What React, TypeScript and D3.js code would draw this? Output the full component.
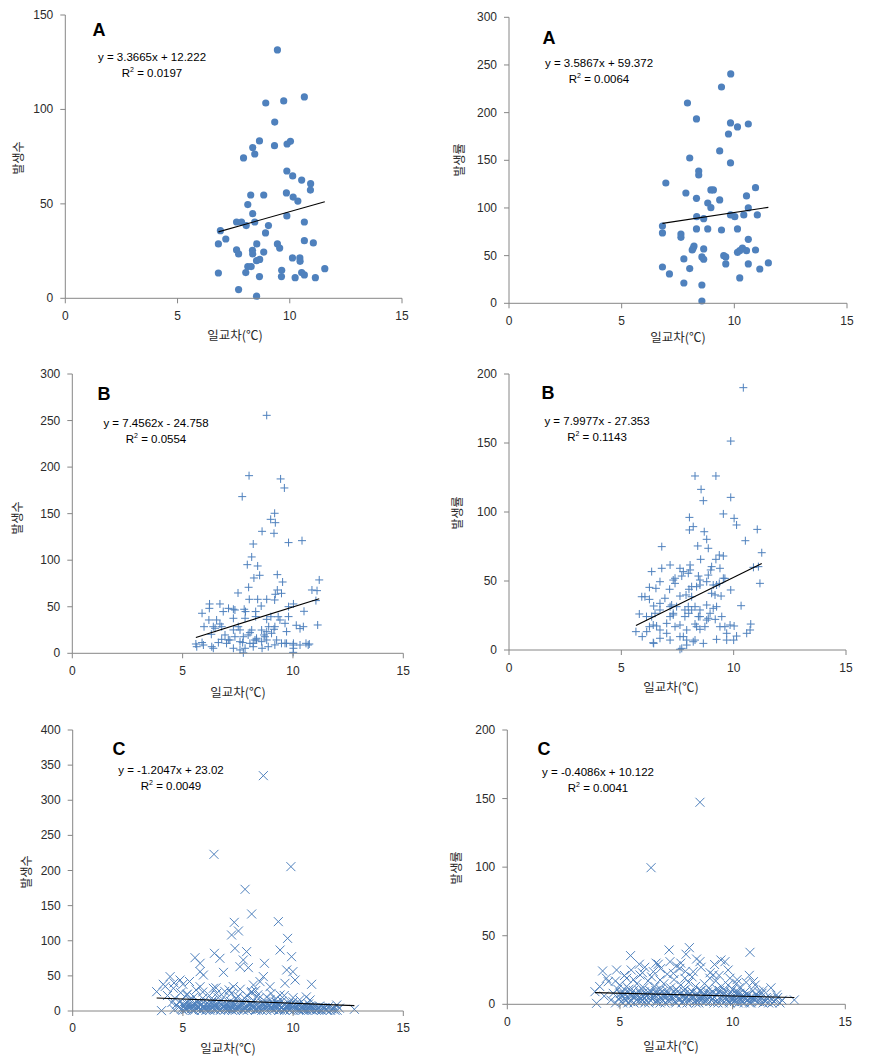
import React from "react";
import * as d3 from "d3";

type Pt = [number, number];

const xTicks = [0, 5, 10, 15];
const xTitle = "일교차(℃)";
const yTitleCount = "발생수";
const yTitleRate = "발생률";

const aCountPoints: Pt[] = [[9.45,131.5],[8.93,103.4],[9.73,104.5],[10.65,106.6],[9.33,93.3],[8.65,83.3],[8.35,79.8],[8.44,76.4],[7.94,74.3],[9.32,80.8],[9.88,81.7],[10.03,83.1],[9.87,67.4],[10.13,64.8],[10.53,62.6],[10.93,60.7],[10.92,57.3],[9.85,55.8],[10.15,53.6],[10.36,51.5],[8.26,54.7],[8.84,54.7],[8.13,49.6],[8.35,44.8],[9.87,43.6],[10.65,40.4],[7.63,40.4],[7.85,40.4],[8.06,38.5],[8.44,40.4],[9.05,38.5],[8.92,34.6],[6.91,35.8],[7.15,31.4],[6.82,28.8],[8.53,28.8],[9.45,28.8],[9.55,26.6],[10.65,30.5],[11.05,29.3],[7.63,25.6],[7.72,23.5],[8.34,25.4],[8.35,23.5],[8.84,24.5],[10.12,21.4],[10.45,21.4],[10.46,19.6],[8.52,19.9],[8.66,20.6],[8.13,16.8],[8.28,16.8],[11.56,15.7],[6.82,13.4],[8.04,13.6],[9.64,14.8],[9.63,11.5],[8.65,11.5],[10.24,10.9],[10.53,13.6],[10.65,12.4],[11.14,10.9],[7.72,4.6],[8.52,1.1]];

const aRatePoints: Pt[] = [[9.84,240.6],[9.43,226.9],[7.92,210.1],[8.32,193.4],[9.83,189.2],[10.62,188.1],[10.14,185.0],[9.74,177.6],[9.35,159.8],[8.02,152.4],[9.83,147.2],[8.42,138.8],[8.42,134.6],[6.96,126.2],[10.94,121.3],[8.96,118.9],[9.07,118.9],[7.85,115.7],[10.54,112.6],[8.32,110.1],[9.35,108.4],[8.82,105.2],[8.96,100.3],[10.62,100.0],[9.83,92.7],[10.02,90.9],[10.42,92.7],[11.02,92.7],[8.33,90.9],[8.64,88.8],[6.81,81.1],[6.81,73.8],[7.63,72.7],[7.63,69.2],[8.32,78.0],[8.82,78.0],[9.43,76.9],[10.14,78.0],[10.62,67.1],[8.21,60.1],[8.13,55.9],[8.17,57.7],[8.64,57.0],[10.36,58.0],[10.24,55.2],[10.14,53.5],[10.54,55.2],[10.94,55.9],[9.53,50.0],[9.62,48.6],[8.56,48.6],[8.64,46.2],[7.76,46.5],[9.62,41.3],[10.62,41.3],[11.51,42.3],[6.81,38.1],[8.02,36.4],[11.13,36.0],[7.12,30.8],[10.24,26.6],[7.76,21.3],[8.56,19.2],[8.56,2.4]];

const bCountPoints: Pt[] = [[8.81,255.6],[8.01,190.8],[9.44,187.3],[9.61,177.6],[7.70,168.3],[9.17,150.4],[8.99,143.9],[9.20,140.3],[8.60,131.0],[9.14,128.9],[10.41,121.0],[9.80,118.9],[8.20,117.4],[8.13,103.5],[7.93,95.2],[8.40,93.8],[8.23,80.9],[8.49,83.8],[9.29,84.5],[9.53,76.6],[11.19,78.8],[7.51,64.8],[7.99,70.9],[9.29,68.0],[10.86,68.0],[11.09,67.3],[9.20,63.4],[9.48,64.4],[8.02,58.0],[8.40,58.0],[8.81,58.0],[9.17,57.3],[11.04,56.6],[6.22,53.0],[6.69,53.0],[10.02,53.0],[9.80,50.1],[6.21,48.3],[7.08,48.3],[7.30,47.3],[7.79,47.3],[7.85,44.8],[6.84,44.8],[10.50,45.1],[5.88,43.0],[8.31,44.8],[8.56,50.8],[6.19,35.8],[7.30,37.6],[8.31,39.4],[9.80,39.4],[9.41,35.8],[5.97,28.6],[6.39,28.6],[6.69,31.5],[10.15,30.1],[10.47,28.6],[11.12,30.4],[10.32,26.5],[8.90,28.6],[9.14,25.8],[9.71,23.3],[6.30,20.4],[7.30,25.1],[7.60,25.1],[8.05,22.2],[8.69,19.7],[5.60,10.0],[5.88,11.5],[6.39,5.4],[6.62,11.5],[6.99,10.7],[7.14,14.3],[7.60,3.6],[7.72,11.5],[8.20,10.7],[8.35,14.3],[8.60,5.4],[8.81,14.3],[9.18,9.0],[9.48,10.7],[9.71,10.7],[10.02,10.7],[10.59,10.7],[10.74,10.0],[10.02,5.4],[9.33,39.3],[9.00,39.3],[6.54,35.8],[7.83,37.6],[8.81,36.5],[9.64,32.2],[9.18,28.6],[6.47,26.9],[6.77,28.6],[7.52,28.6],[8.13,25.0],[8.58,25.0],[9.03,21.5],[6.92,19.7],[7.37,17.8],[7.75,17.8],[8.35,16.1],[8.73,17.8],[9.26,14.3],[7.60,12.5],[8.05,10.7],[8.58,12.5],[9.64,10.7],[10.01,8.9],[10.32,8.9],[10.69,8.9],[5.64,7.1],[5.94,8.9],[6.32,7.1],[7.30,5.4],[7.83,5.4],[8.20,7.1],[8.88,7.1],[10.01,1.0],[7.75,0.5],[7.07,14.3],[6.77,15.0],[7.97,19.7],[8.28,14.3],[8.81,23.2],[7.37,46.5]];

const bRatePoints: Pt[] = [[10.43,190.1],[9.87,151.4],[8.28,126.1],[9.21,126.1],[8.55,116.4],[8.65,108.2],[9.87,110.6],[9.54,98.6],[8.03,96.1],[10.02,95.4],[10.13,90.6],[8.20,89.4],[8.03,87.0],[11.05,87.4],[8.69,85.7],[6.80,74.9],[10.52,79.2],[8.80,80.2],[8.40,75.4],[8.87,73.7],[11.25,70.5],[9.36,68.8],[9.54,68.1],[9.21,65.7],[8.53,65.7],[7.17,61.6],[6.80,59.2],[6.35,56.8],[7.61,59.2],[8.06,61.6],[7.76,56.8],[7.98,55.6],[8.98,58.0],[11.10,60.4],[10.88,59.9],[7.31,50.7],[6.72,49.5],[7.39,48.3],[8.50,50.7],[8.80,49.5],[9.36,48.3],[9.61,51.9],[11.17,48.3],[6.25,45.4],[6.54,44.7],[7.15,44.0],[8.01,44.0],[8.35,45.9],[9.87,43.5],[9.09,47.1],[5.91,38.6],[6.25,36.7],[7.61,39.1],[7.88,39.9],[9.02,41.1],[9.44,39.1],[6.44,31.9],[6.72,33.8],[7.17,31.4],[7.46,31.4],[7.83,29.0],[8.28,31.4],[8.80,32.6],[9.24,31.4],[10.33,32.1],[5.80,26.1],[6.12,24.2],[6.50,26.6],[7.31,25.4],[8.00,26.6],[8.50,24.2],[8.95,26.6],[9.18,22.2],[9.47,24.2],[6.25,16.9],[6.57,17.4],[7.02,19.3],[7.39,16.9],[7.91,14.5],[8.35,16.9],[8.80,21.7],[9.61,16.9],[9.84,18.1],[10.02,17.4],[10.76,18.8],[5.65,13.3],[6.44,4.8],[6.72,8.5],[7.17,7.2],[7.61,9.7],[7.91,7.2],[8.28,7.2],[8.65,4.8],[9.24,7.7],[9.69,7.2],[10.00,7.2],[10.13,10.1],[10.58,12.1],[10.73,14.5],[5.93,9.7],[7.61,0.5],[7.91,3.6],[7.39,52.0],[7.69,53.6],[8.06,58.0],[8.43,53.6],[8.87,54.3],[9.02,60.4],[9.39,59.2],[9.54,52.0],[8.13,45.9],[8.50,47.1],[9.24,47.1],[6.05,38.6],[6.94,37.5],[8.13,38.6],[9.17,39.9],[7.24,32.6],[7.98,31.4],[6.72,29.0],[7.31,26.6],[8.13,29.0],[8.50,29.0],[9.09,30.2],[6.35,24.2],[7.17,24.2],[7.83,24.2],[8.43,24.2],[8.87,23.0],[6.42,18.1],[7.61,18.1],[8.28,18.8],[8.72,16.9],[9.39,16.9],[6.13,13.3],[6.72,14.5],[7.02,12.1],[8.50,15.0],[9.69,12.1],[6.42,5.3],[7.76,9.7],[8.20,6.0],[7.69,1.2]];

const cCountPoints: Pt[] = [[8.65,335.0],[6.41,223.0],[9.90,205.5],[7.82,173.2],[8.12,138.1],[9.33,127.2],[7.33,126.2],[7.52,113.9],[7.21,108.2],[9.75,103.4],[7.36,89.2],[9.41,86.8],[7.89,84.5],[6.43,82.1],[9.93,77.3],[5.55,75.9],[6.68,75.0],[7.74,72.6],[5.78,67.9],[8.70,67.9],[7.59,63.1],[7.97,61.7],[9.71,58.4],[5.78,56.0],[6.84,55.0],[9.99,56.0],[5.93,51.2],[4.42,48.9],[8.65,48.9],[4.87,44.1],[10.09,44.1],[10.84,38.0],[4.11,38.0],[8.20,37.0],[8.50,41.8],[9.63,39.4],[3.81,27.5],[4.57,32.3],[5.78,34.6],[6.38,32.3],[7.29,34.6],[8.95,34.6],[8.12,27.5],[9.41,22.8],[4.03,0.5],[12.78,2.4],[4.64,18.0],[5.17,22.8],[6.53,25.1],[10.77,15.7],[11.98,8.5],[11.83,3.8],
[4.6,2],[4.7,9],[4.8,5],[4.9,14],[5.0,1],[5.05,7],[5.15,11],[5.2,3],[5.3,16],[5.35,6],[5.45,1],[5.5,10],[5.6,4],[5.65,13],[5.75,2],[5.8,8],[5.9,18],[5.95,5],[6.05,1],[6.1,11],[6.2,3],[6.25,7],[6.35,15],[6.4,2],[6.5,9],[6.55,5],[6.65,12],[6.7,1],[6.8,6],[6.85,20],[6.95,3],[7.0,10],[7.1,4],[7.15,14],[7.25,1],[7.3,7],[7.4,17],[7.45,3],[7.55,9],[7.6,5],[7.7,12],[7.75,1],[7.85,7],[7.9,22],[8.0,3],[8.05,10],[8.15,5],[8.2,15],[8.3,1],[8.35,8],[8.45,18],[8.5,3],[8.6,11],[8.65,5],[8.75,13],[8.8,1],[8.9,7],[8.95,16],[9.05,3],[9.1,9],[9.2,4],[9.25,12],[9.35,1],[9.4,7],[9.5,14],[9.55,3],[9.65,9],[9.7,5],[9.8,11],[9.85,1],[9.95,6],[10.0,13],[10.1,3],[10.15,8],[10.25,2],[10.3,11],[10.4,5],[10.45,1],[10.55,8],[10.6,3],[10.7,10],[10.75,2],[10.85,6],[10.9,1],[11.0,5],[11.1,2],[11.2,7],[11.3,1],[11.4,4],[11.5,2],[11.6,6],[11.7,1],[11.85,3],[12.0,1],[12.1,4],
[5.1,4],[5.4,8],[5.7,6],[6.0,4],[6.3,10],[6.6,3],[6.9,8],[7.2,2],[7.5,6],[7.8,4],[8.1,7],[8.4,2],[8.7,6],[9.0,4],[9.3,9],[9.6,2],[9.9,4],[10.2,6],[10.5,3],[10.8,4],[11.15,3],[11.45,5],
[4.95,3],[5.02,9],[5.12,2],[5.22,6],[5.28,10],[5.38,3],[5.48,7],[5.52,1],[5.62,9],[5.72,5],[5.78,12],[5.85,1],[5.92,6],[6.02,9],[6.08,3],[6.15,7],[6.22,1],[6.28,12],[6.32,5],[6.42,8],[6.48,2],[6.58,10],[6.62,6],[6.72,3],[6.78,9],[6.88,1],[6.92,5],[7.02,7],[7.08,2],[7.18,9],[7.22,5],[7.32,11],[7.38,1],[7.48,6],[7.52,3],[7.62,8],[7.68,2],[7.78,10],[7.82,5],[7.92,1],[7.98,7],[8.08,3],[8.12,11],[8.22,6],[8.28,2],[8.38,9],[8.42,5],[8.52,7],[8.58,1],[8.68,9],[8.72,3],[8.82,6],[8.88,10],[8.98,1],[9.02,6],[9.12,2],[9.18,8],[9.28,5],[9.32,11],[9.42,2],[9.48,6],[9.58,9],[9.62,1],[9.72,7],[9.78,3],[9.88,8],[9.92,4],[10.02,1],[10.08,6],[10.18,3],[10.22,9],[10.32,1],[10.38,6],[10.48,3],[10.52,8],[10.62,1],[10.68,5],[10.78,7],[10.82,2],[10.92,5],[11.05,1],[11.12,4],[11.25,2],[11.35,5],[11.55,1],[11.75,3],[11.9,1],
[5.2,24],[5.5,20],[5.9,27],[6.2,22],[6.6,19],[6.9,28],[7.2,25],[7.5,21],[7.8,18],[8.1,26],[8.4,23],[8.8,20],[9.2,17],[9.6,22],[10.0,19],[10.3,16],[10.6,20],[4.9,26],[4.3,22],[4.5,12],[7.1,30],[7.6,31],[8.3,29],[9.0,25],[5.6,30],[6.5,33],[4.2,35],[4.6,40],[5.0,38],[5.3,42]];

const cRatePoints: Pt[] = [[8.55,147.3],[6.38,99.6],[8.08,41.3],[7.93,36.5],[7.18,39.6],[10.77,37.9],[5.47,35.5],[9.48,32.3],[9.66,31.1],[5.86,29.2],[6.70,29.2],[4.23,24.3],[4.85,25.0],[10.74,21.1],[7.22,31.1],[7.66,26.2],[8.55,31.1],[9.14,21.4],[3.89,9.2],[3.96,0.7],[12.74,3.2],[11.95,6.8],[11.36,10.4],[5.30,19.0],[5.89,21.4],[6.48,23.8],[7.37,22.6],[8.25,23.8],[8.99,19.0],[9.88,19.0],[10.18,15.3],[4.48,16.5],[4.99,14.1],[10.92,16.5],[6.78,17.7],[7.88,19.0],
[4.6,3],[4.7,8],[4.8,1],[4.9,11],[5.0,5],[5.05,2],[5.15,9],[5.2,4],[5.3,13],[5.35,1],[5.45,7],[5.5,3],[5.6,10],[5.65,5],[5.75,15],[5.8,2],[5.9,8],[5.95,4],[6.05,12],[6.1,1],[6.2,6],[6.25,17],[6.35,3],[6.4,9],[6.5,5],[6.55,13],[6.65,2],[6.7,7],[6.8,11],[6.85,4],[6.95,15],[7.0,1],[7.1,8],[7.15,3],[7.25,12],[7.3,6],[7.4,18],[7.45,2],[7.55,9],[7.6,4],[7.7,14],[7.75,1],[7.85,7],[7.9,11],[8.0,3],[8.05,16],[8.15,5],[8.2,9],[8.3,2],[8.35,13],[8.45,6],[8.5,1],[8.6,10],[8.65,4],[8.75,15],[8.8,2],[8.9,7],[8.95,12],[9.05,3],[9.1,9],[9.2,5],[9.25,17],[9.35,1],[9.4,8],[9.5,13],[9.55,3],[9.65,10],[9.7,5],[9.8,14],[9.85,2],[9.95,7],[10.0,11],[10.1,3],[10.15,8],[10.25,1],[10.3,12],[10.4,5],[10.45,2],[10.55,9],[10.6,4],[10.7,7],[10.75,1],[10.85,5],[10.9,10],[11.0,3],[11.1,6],[11.2,2],[11.3,8],[11.4,3],[11.5,5],[11.6,1],[11.7,4],[11.85,2],[12.0,5],[12.1,1],
[5.1,6],[5.4,11],[5.7,7],[6.0,3],[6.3,8],[6.6,10],[6.9,6],[7.2,4],[7.5,11],[7.8,5],[8.1,8],[8.4,3],[8.7,7],[9.0,5],[9.3,11],[9.6,7],[9.9,4],[10.2,9],[10.5,6],[10.8,3],[11.15,9],[11.45,2],
[4.95,4],[5.02,8],[5.12,1],[5.22,7],[5.28,3],[5.38,9],[5.48,2],[5.52,6],[5.62,1],[5.72,8],[5.78,4],[5.85,10],[5.92,2],[6.02,6],[6.08,9],[6.15,3],[6.22,7],[6.28,1],[6.32,10],[6.42,4],[6.48,7],[6.58,2],[6.62,8],[6.72,4],[6.78,1],[6.88,9],[6.92,3],[7.02,6],[7.08,10],[7.18,2],[7.22,7],[7.32,4],[7.38,9],[7.48,1],[7.52,6],[7.62,3],[7.68,8],[7.78,2],[7.82,10],[7.92,5],[7.98,1],[8.08,7],[8.12,3],[8.22,9],[8.28,5],[8.38,1],[8.42,8],[8.52,4],[8.58,10],[8.68,2],[8.72,6],[8.82,3],[8.88,9],[8.98,2],[9.02,8],[9.12,4],[9.18,1],[9.28,7],[9.32,3],[9.42,10],[9.48,4],[9.58,1],[9.62,8],[9.72,3],[9.78,6],[9.88,1],[9.92,9],[10.02,4],[10.08,2],[10.18,7],[10.22,3],[10.32,8],[10.38,2],[10.48,5],[10.52,1],[10.62,7],[10.68,3],[10.78,5],[10.82,1],[10.92,4],[11.05,7],[11.12,2],[11.25,5],[11.35,1],[11.55,4],[11.75,1],[11.9,3],
[4.4,19],[4.8,17],[5.2,21],[5.6,18],[6.0,23],[6.4,20],[6.8,26],[7.1,22],[7.5,28],[7.9,24],[8.2,20],[8.6,27],[9.0,23],[9.4,21],[9.8,25],[10.2,18],[10.6,16],[11.0,14],[6.1,27],[6.6,30],[7.7,30],[8.4,33],[9.2,29],[4.1,13],[4.3,6],[5.5,25],[11.7,12],[12.2,3]];

const panelLabels = ["A", "A", "B", "B", "C", "C"];
const slopes = [3.3665, 3.5867, 7.4562, 7.9977, -1.2047, -0.4086];
const intercepts = [12.222, 59.372, -24.758, -27.353, 23.02, 10.122];
const eqTexts = ["y = 3.3665x + 12.222", "y = 3.5867x + 59.372", "y = 7.4562x - 24.758", "y = 7.9977x - 27.353", "y = -1.2047x + 23.02", "y = -0.4086x + 10.122"];
const r2Texts = ["0.0197", "0.0064", "0.0554", "0.1143", "0.0049", "0.0041"];
const yMaxes = [150, 300, 300, 200, 400, 200];
const yTitles = [yTitleCount, yTitleRate, yTitleCount, yTitleRate, yTitleCount, yTitleRate];
const pointSets = [aCountPoints, aRatePoints, bCountPoints, bRatePoints, cCountPoints, cRatePoints];
const markerTypes = ["circle", "circle", "plus", "plus", "cross", "cross"];

// layout (pixel geometry only)
const layouts = [
  { l: 65.3, r: 402, t: 15, b: 298.3, lab: [99, 29], eq: [152, 57], xl: 320, xt: [235, 340], yt: [19, 158] },
  { l: 509, r: 847, t: 17.3, b: 303.3, lab: [549, 37], eq: [599, 63], xl: 325, xt: [678, 342], yt: [460, 160] },
  { l: 72.3, r: 403.3, t: 374, b: 653.3, lab: [104, 393], eq: [156, 423], xl: 675, xt: [238, 697], yt: [18, 518] },
  { l: 509, r: 846, t: 374, b: 650, lab: [548, 392], eq: [597, 421], xl: 672, xt: [671, 692], yt: [458, 513] },
  { l: 72.7, r: 403.3, t: 730, b: 1011, lab: [119, 748], eq: [171, 770], xl: 1032, xt: [228, 1053], yt: [27, 872] },
  { l: 507.3, r: 845.3, t: 730, b: 1004.3, lab: [544, 748], eq: [598, 772], xl: 1026, xt: [671, 1051], yt: [457, 868] },
];

const AXIS = "#868686";
const MARK = "#4F81BD";
const TXT = "#2b2b2b";
const LATIN = "'Liberation Sans', Arial, sans-serif";
const KR = "'Noto Sans CJK KR', sans-serif";

function Panel({ i }: { i: number }) {
  const L = layouts[i];
  const x = d3.scaleLinear().domain([0, 15]).range([L.l, L.r]);
  const y = d3.scaleLinear().domain([0, yMaxes[i]]).range([L.b, L.t]);
  const yTicks = d3.range(0, yMaxes[i] + 1, 50);
  const pts = pointSets[i];
  const [xmin, xmax] = d3.extent(pts, (d) => d[0]) as [number, number];
  const line = d3.line<number>().x((v) => x(v)).y((v) => y(slopes[i] * v + intercepts[i]));
  const mt = markerTypes[i];

  return (
    <g>
      <g>
        {pts.map((d, k) => {
          const cx = x(d[0]);
          const cy = y(d[1]);
          if (mt === "circle") return <circle key={k} cx={cx} cy={cy} r={3.6} fill={MARK} />;
          if (mt === "plus")
            return (
              <path key={k} d={`M${cx - 4},${cy}H${cx + 4}M${cx},${cy - 4}V${cy + 4}`} stroke={MARK} strokeWidth={1} fill="none" />
            );
          return (
            <path key={k} d={`M${cx - 4.5},${cy - 4.5}L${cx + 4.5},${cy + 4.5}M${cx - 4.5},${cy + 4.5}L${cx + 4.5},${cy - 4.5}`} stroke={MARK} strokeWidth={1} fill="none" />
          );
        })}
      </g>
      <path d={line([xmin, xmax]) || ""} stroke="#000" strokeWidth={1.1} fill="none" />
      <line x1={L.l} x2={L.l} y1={L.t} y2={L.b} stroke={AXIS} />
      <line x1={L.l} x2={L.r} y1={L.b} y2={L.b} stroke={AXIS} />
      {yTicks.map((t) => (
        <g key={"y" + t}>
          <line x1={L.l - 5} x2={L.l} y1={y(t)} y2={y(t)} stroke={AXIS} />
          <text x={L.l - 12} y={y(t) + 4} textAnchor="end" fontSize={12} fill={TXT} fontFamily={LATIN}>
            {t}
          </text>
        </g>
      ))}
      {xTicks.map((t) => (
        <g key={"x" + t}>
          <line x1={x(t)} x2={x(t)} y1={L.b} y2={L.b + 5} stroke={AXIS} />
          <text x={x(t)} y={L.xl} textAnchor="middle" fontSize={12} fill={TXT} fontFamily={LATIN}>
            {t}
          </text>
        </g>
      ))}
      <text x={L.xt[0]} y={L.xt[1]} textAnchor="middle" fontSize={12.5} fill={TXT} fontFamily={KR}>
        {xTitle}
      </text>
      <text transform={`translate(${L.yt[0] + 4},${L.yt[1]}) rotate(-90)`} textAnchor="middle" fontSize={12} fill={TXT} fontFamily={KR}>
        {yTitles[i]}
      </text>
      <text x={L.lab[0]} y={L.lab[1] + 6.5} textAnchor="middle" fontSize={18} fontWeight="bold" fill="#000" fontFamily={LATIN}>
        {panelLabels[i]}
      </text>
      <text x={L.eq[0]} y={L.eq[1] + 4} textAnchor="middle" fontSize={11.5} fill="#000" fontFamily={LATIN}>
        {eqTexts[i]}
      </text>
      <text x={L.eq[0]} y={L.eq[1] + 20} textAnchor="middle" fontSize={11.5} fill="#000" fontFamily={LATIN}>
        R<tspan fontSize={7} dy={-5}>2</tspan>
        <tspan dy={5}>{" = " + r2Texts[i]}</tspan>
      </text>
    </g>
  );
}

export default function App() {
  return (
    <svg width={879} height={1062} style={{ position: "absolute", left: 0, top: 0, background: "#fff" }}>
      <rect width={879} height={1062} fill="#fff" />
      {layouts.map((_, i) => (
        <Panel key={i} i={i} />
      ))}
    </svg>
  );
}
